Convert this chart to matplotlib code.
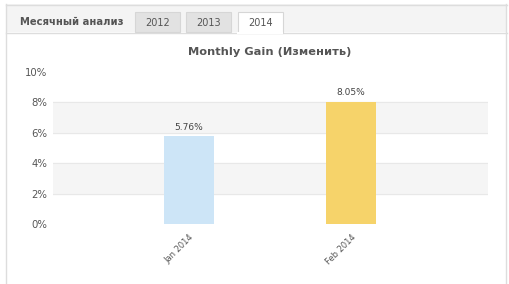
import matplotlib.pyplot as plt
from matplotlib.patches import Rectangle

months = ["Jan 2014", "Feb 2014"]
gains = [5.76, 8.05]
bar_colors = ["#cde5f7", "#f6d36a"]
yticks = [0, 2, 4, 6, 8, 10]
tabs = ["2012", "2013", "2014"]

W, H = 509, 284
fig = plt.figure(figsize=(W / 100, H / 100), dpi=100)

# background / widget chrome in pixel coordinates
bg = fig.add_axes([0, 0, 1, 1], zorder=0)
bg.set_xlim(0, W)
bg.set_ylim(H, 0)
bg.axis("off")
bg.add_patch(Rectangle((6, 4), 501, 28, facecolor="#f4f4f4", edgecolor="none"))
bg.plot([6, 507], [4.5, 4.5], color="#dddddd", lw=1)
bg.plot([6.5, 6.5], [4, H], color="#dddddd", lw=1)
bg.plot([506.5, 506.5], [4, H], color="#dddddd", lw=1)
bg.plot([6, 507], [32.5, 32.5], color="#dddddd", lw=1)
bg.text(20, 22, "Месячный анализ", fontsize=7.2, fontweight="bold", color="#555555", va="center")
for i, t in enumerate(tabs):
    x0 = 135 + i * 51.5
    active = i == len(tabs) - 1
    bg.add_patch(Rectangle((x0, 12), 45, 21 if active else 20,
                           facecolor="white" if active else "#e2e2e2",
                           edgecolor="#d6d6d6", lw=0.8, zorder=3))
    if active:
        bg.plot([x0 + 0.5, x0 + 44.5], [32.5, 32.5], color="white", lw=1.5, zorder=4)
    bg.text(x0 + 22.5, 23, t, fontsize=7, color="#555555", ha="center", va="center", zorder=5)

# chart
ax = fig.add_axes([53 / W, (H - 224) / H, 435 / W, 152 / H], zorder=1)
ax.patch.set_alpha(0)
for lo in (2, 6):
    ax.axhspan(lo, lo + 2, color="#f5f5f5", zorder=0)
for y in yticks[1:-1]:
    ax.axhline(y, color="#e8e8e8", lw=0.8, zorder=0.5)

x = range(len(months))
ax.bar(x, gains, width=50 / 162, color=bar_colors, zorder=2)
for xi, g in zip(x, gains):
    ax.text(xi, g + 0.3, f"{g:.2f}%", ha="center", va="bottom", fontsize=6.5, color="#444444")

ax.set_xlim(-0.84, 1.846)
ax.set_ylim(0, 10)
ax.set_yticks(yticks)
ax.set_yticklabels([f"{v}%" for v in yticks], fontsize=7.3, color="#555555")
ax.set_xticks(list(x))
ax.set_xticklabels(months, rotation=45, ha="right", rotation_mode="anchor", fontsize=6, color="#555555")
ax.tick_params(axis="y", length=0, pad=4)
ax.tick_params(axis="x", length=0, pad=6)
for s in ax.spines.values():
    s.set_visible(False)

fig.text(270 / W, 1 - 52 / H, "Monthly Gain (Изменить)", ha="center", va="center",
         fontsize=8.2, fontweight="bold", color="#555555")

fig.savefig("out.png", dpi=100)
